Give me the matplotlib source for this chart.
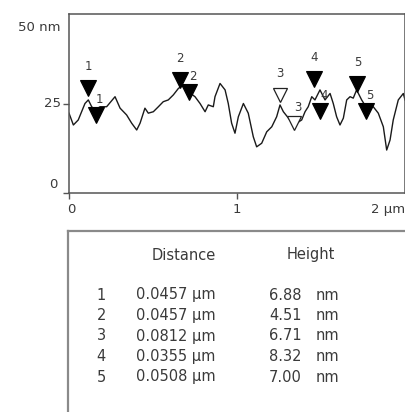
import matplotlib
matplotlib.use("Agg")
import matplotlib.pyplot as plt

# ---- profile data (µm, nm) ----
profile_x = [0.000, 0.026, 0.055, 0.095, 0.115, 0.135, 0.155, 0.185, 0.224, 0.274,
             0.304, 0.343, 0.373, 0.403, 0.423, 0.452, 0.472, 0.502, 0.532, 0.561,
             0.591, 0.621, 0.651, 0.680, 0.710, 0.750, 0.780, 0.810, 0.829, 0.859,
             0.869, 0.899, 0.929, 0.948, 0.968, 0.988, 1.008, 1.038, 1.067, 1.097,
             1.117, 1.147, 1.177, 1.207, 1.236, 1.256, 1.276, 1.315, 1.355, 1.385,
             1.405, 1.424, 1.445, 1.464, 1.494, 1.524, 1.554, 1.573, 1.593, 1.613,
             1.633, 1.653, 1.673, 1.692, 1.712, 1.742, 1.772, 1.811, 1.841, 1.871,
             1.891, 1.911, 1.930, 1.960, 1.990, 2.000]
profile_y = [22.3, 19.0, 20.4, 25.0, 26.0, 24.1, 23.2, 24.1, 24.1, 26.9,
             23.7, 21.8, 19.5, 17.6, 19.5, 23.7, 22.3, 22.7, 24.1, 25.5,
             26.0, 27.4, 29.2, 30.2, 28.3, 26.9, 25.0, 22.7, 24.6, 24.1,
             26.9, 30.6, 28.8, 25.0, 19.5, 16.7, 21.3, 25.0, 22.3, 15.7,
             12.9, 13.9, 17.1, 18.5, 21.3, 24.6, 22.7, 20.4, 19.5, 20.4,
             22.7, 24.1, 26.9, 26.0, 28.8, 26.0, 27.8, 25.0, 21.3, 19.0,
             20.9, 26.0, 26.9, 26.5, 28.8, 26.0, 23.7, 24.1, 22.3, 18.5,
             12.0, 14.8, 20.4, 26.0, 27.8, 26.0]

# ---- cursor markers ----
marker_ids = ["1", "1", "2", "2", "3", "3", "4", "4", "5", "5"]
marker_x = [0.115, 0.159, 0.661, 0.714, 1.256, 1.339, 1.460, 1.496, 1.717, 1.767]
marker_y = [29.3, 21.8, 31.6, 28.3, 27.4, 19.6, 31.8, 22.9, 30.4, 22.9]
marker_filled = [True, True, True, True, False, False, True, True, True, True]
marker_upper = [True, False, True, False, True, False, True, False, True, False]

# ---- axis ticks ----
x_ticks = [0, 1, 2]
x_tick_labels = ["0", "1", "2 µm"]
y_ticks = [0, 25, 50]
y_tick_labels = ["0", "25", "50 nm"]

# ---- table ----
table_ids = ["1", "2", "3", "4", "5"]
table_distance = [0.0457, 0.0457, 0.0812, 0.0355, 0.0508]
table_height = [6.88, 4.51, 6.71, 8.32, 7.00]

TXT = "#3a3a3a"
plt.rcParams['font.family'] = ['DejaVu Sans']

W, H = 406, 412
fig = plt.figure(figsize=(W / 100, H / 100), dpi=100)
fig.patch.set_facecolor("white")

ax = fig.add_axes([69 / W, (H - 193) / H, 336 / W, 179 / H])
ax.plot(profile_x, profile_y, color="#1a1a1a", lw=1.0, zorder=2)
ax.set_xlim(0, 2)
ax.set_ylim(0, 50)

for mid, mx, my, filled, upper in zip(marker_ids, marker_x, marker_y,
                                      marker_filled, marker_upper):
    if filled:
        ax.plot(mx, my, marker="v", ms=11.5, mfc="black", mec="black",
                mew=0.8, ls="none", zorder=3)
    else:
        ax.plot(mx, my, marker="v", ms=9.5, mfc="white", mec="#222222",
                mew=0.9, ls="none", zorder=3)
    off = (0, 11) if upper else (3, 11)
    ax.annotate(mid, (mx, my), xytext=off, textcoords="offset points",
                ha="center", va="bottom" if upper else "center",
                fontsize=8.5, color=TXT, zorder=4)

for s in ax.spines.values():
    s.set_color("#555555")
    s.set_linewidth(1.1)

ax.set_xticks([0, 1])
ax.set_yticks([0, 25])
ax.set_xticklabels([])
ax.set_yticklabels([])
ax.tick_params(direction="out", length=4, width=1, color="#555555")

# x tick labels
x_off = [(2, -12), (0, -12), (0, -12)]
x_ha = ["center", "center", "right"]
for xt, lab, off, ha in zip(x_ticks, x_tick_labels, x_off, x_ha):
    ax.annotate(lab, (xt, 0), xycoords=("data", "axes fraction"),
                xytext=off, textcoords="offset points", ha=ha, va="center",
                fontsize=9.5, color=TXT)

# y tick labels
y_off = [(-8, 6), (-6, 0), (-6, -10)]
for yt, lab, off in zip(y_ticks, y_tick_labels, y_off):
    ax.annotate(lab, (0, yt), xycoords=("axes fraction", "data"),
                xytext=off, textcoords="offset points", ha="right", va="center",
                fontsize=9.5, color=TXT)

# ---- table box ----
tax = fig.add_axes([68 / W, 0, (W - 68) / W, (H - 231) / H])
tax.set_xlim(68, W)
tax.set_ylim(H, 231)
tax.set_xticks([])
tax.set_yticks([])
for side in ("right", "bottom"):
    tax.spines[side].set_visible(False)
for side in ("top", "left"):
    tax.spines[side].set_color("#8a8a8a")
    tax.spines[side].set_linewidth(1.6)

fs = 10.5
tax.text(152, 255, "Distance", ha="left", va="center", fontsize=fs, color=TXT)
tax.text(287, 255, "Height", ha="left", va="center", fontsize=fs, color=TXT)
for i, (rid, d, h) in enumerate(zip(table_ids, table_distance, table_height)):
    y = 295 + 20.5 * i
    tax.text(106, y, rid, ha="right", va="center", fontsize=fs, color=TXT)
    tax.text(136, y, f"{d:.4f} µm", ha="left", va="center", fontsize=fs, color=TXT)
    tax.text(269, y, f"{h:.2f}", ha="left", va="center", fontsize=fs, color=TXT)
    tax.text(316, y, "nm", ha="left", va="center", fontsize=fs, color=TXT)

fig.savefig("out.png", dpi=100, facecolor="white")
